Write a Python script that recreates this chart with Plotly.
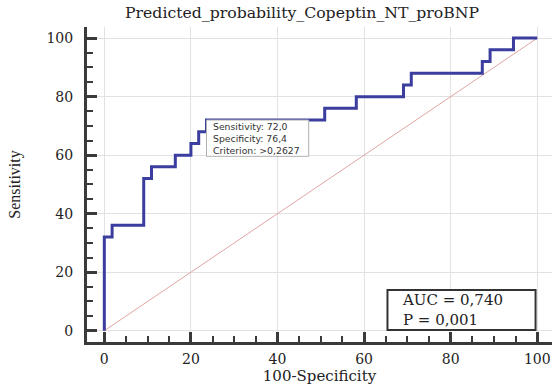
import plotly.graph_objects as go

# ROC curve points (100-Specificity, Sensitivity), step shape
fpr = [0, 0, 1.8, 9.1, 10.9, 16.4, 20.0, 21.8, 23.6, 50.9, 58.2, 69.1, 70.9, 87.3, 89.1, 94.5, 100]
tpr = [0, 32, 36, 52, 56, 60, 64, 68, 72, 76, 80, 84, 88, 92, 96, 100, 100]
diag_x = [0, 100]
diag_y = [0, 100]

title = "Predicted_probability_Copeptin_NT_proBNP"
x_title = "100-Specificity"
y_title = "Sensitivity"
cut_sens = 72.0
cut_spec = 76.4
cut_crit = ">0,2627"
auc_text = "AUC = 0,740"
p_text = "P = 0,001"
tick_vals = [0, 20, 40, 60, 80, 100]

serif = "DejaVu Serif, serif"
serif2 = "Liberation Serif, Times New Roman, serif"
sans = "DejaVu Sans, sans-serif"
axcol = "#3a3a3a"
txtcol = "#222"

fig = go.Figure()
fig.add_trace(go.Scatter(x=diag_x, y=diag_y, mode="lines",
                         line=dict(color="#e2a4a4", width=1), hoverinfo="skip"))
fig.add_trace(go.Scatter(x=fpr, y=tpr, mode="lines", line_shape="hv",
                         line=dict(color="#3b3e9e", width=3)))

axis_common = dict(
    showline=True, linewidth=3, linecolor=axcol,
    ticks="inside", ticklen=10, tickwidth=2.5, tickcolor=axcol,
    tickvals=tick_vals,
    tickfont=dict(family=serif, size=14, color=txtcol),
    showgrid=True, gridcolor="#e2e2e2", gridwidth=1,
    zeroline=False,
    minor=dict(ticks="inside", ticklen=6, tickwidth=2, tickcolor=axcol, dtick=5, showgrid=False),
)

fig.update_layout(
    width=552, height=385,
    margin=dict(l=87, r=0, t=27, b=43),
    plot_bgcolor="white", paper_bgcolor="white",
    showlegend=False,
    xaxis=dict(range=[-4, 103.4], ticklabelstandoff=2,
               title=dict(text=x_title, font=dict(family=serif, size=15, color=txtcol), standoff=3),
               **axis_common),
    yaxis=dict(range=[-3.86, 103.8], ticklabelstandoff=8,
               title=dict(text=y_title, font=dict(family=serif2, size=16, color=txtcol), standoff=22),
               **axis_common),
)

fig.add_annotation(x=0.462, y=1.0, xref="paper", yref="paper", yshift=15,
                   text=title, showarrow=False, xanchor="center", yanchor="middle",
                   font=dict(family=serif, size=15.7, color=txtcol))

# cut-off info box
cut_lines = [f"Sensitivity: {cut_sens:.1f}".replace(".", ","),
             f"Specificity: {cut_spec:.1f}".replace(".", ","),
             "Criterion: " + cut_crit.replace(">", "&gt;")]
fig.add_shape(type="rect", x0=100 - cut_spec, x1=47.2, y0=59.6, y1=cut_sens, xref="x", yref="y",
              line=dict(color="#b0b0b0", width=1), fillcolor="white", layer="above")
fig.add_annotation(x=24.6, y=65.8, xref="x", yref="y", text="<br>".join(cut_lines), showarrow=False,
                   xanchor="left", yanchor="middle", align="left",
                   font=dict(family=sans, size=9.3, color="#333"))

# AUC box
fig.add_shape(type="rect", x0=65.4, x1=99.6, y0=0.2, y1=13.9, xref="x", yref="y",
              line=dict(color="#333", width=2), fillcolor="white", layer="above")
fig.add_annotation(x=68.4, y=7.1, xref="x", yref="y", text=auc_text + "<br>" + p_text, showarrow=False,
                   xanchor="left", yanchor="middle", align="left",
                   font=dict(family=serif, size=15, color=txtcol))

fig.write_html("out.html")
